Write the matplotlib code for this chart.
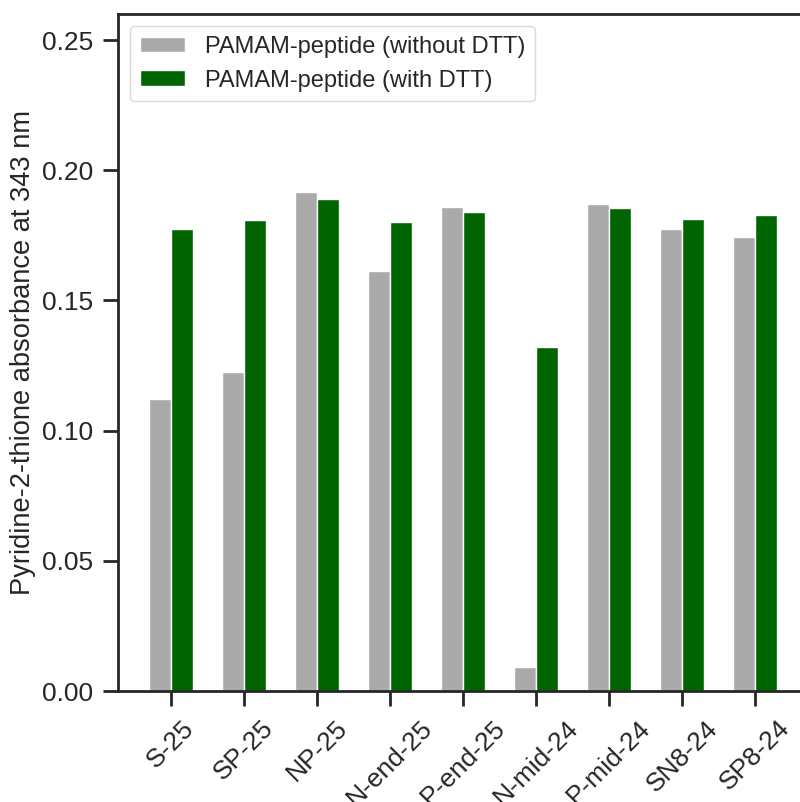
import matplotlib
matplotlib.use("Agg")
from matplotlib import pyplot as plt
import seaborn as sns
import numpy as np

samples = ["S-25", "SP-25", "NP-25", "N-end-25", "P-end-25",
           "N-mid-24", "P-mid-24", "SN8-24", "SP8-24"]
without_dtt = [0.1122, 0.1227, 0.1915, 0.1613, 0.1857, 0.0093, 0.1871, 0.1774, 0.1743]
with_dtt = [0.1774, 0.1809, 0.1888, 0.1801, 0.1839, 0.1323, 0.1855, 0.1814, 0.1828]

sns.set_style("ticks")
plt.rcParams['font.family'] = ['Liberation Sans', 'DejaVu Sans']
plt.rcParams['text.color'] = '#262626'
plt.rcParams['axes.labelcolor'] = '#262626'
plt.rcParams['xtick.color'] = '#262626'
plt.rcParams['ytick.color'] = '#262626'

fig = plt.figure(figsize=(8, 8.02), dpi=100)
ax = fig.add_axes([0.1475, 0.1384, 0.8625, 0.8441])

x = np.arange(len(samples))
w = 0.3
ax.bar(x - w / 2, without_dtt, w, color='#aaaaaa', edgecolor='white', linewidth=1,
       label='PAMAM-peptide (without DTT)')
ax.bar(x + w / 2, with_dtt, w, color='#006400', edgecolor='white', linewidth=1,
       label='PAMAM-peptide (with DTT)')

ax.set_xlim(-0.726, 8.726)
ax.set_ylim(0, 0.26)
ax.set_yticks([0, 0.05, 0.10, 0.15, 0.20, 0.25])
ax.set_yticklabels(['0.00', '0.05', '0.10', '0.15', '0.20', '0.25'])
ax.set_xticks(x)
ax.set_xticklabels(samples, rotation=45, ha='center')
ax.tick_params(axis='both', labelsize=19, length=11, width=2, color='#262626', pad=7)
ax.set_ylabel('Pyridine-2-thione absorbance at 343 nm', fontsize=19.6, labelpad=4)

for s in ax.spines.values():
    s.set_linewidth(2)
    s.set_color('#262626')

leg = ax.legend(loc='upper left', fontsize=17, handlelength=1.9, handleheight=0.65,
                handletextpad=0.85, borderpad=0.42, labelspacing=0.5,
                fancybox=True, frameon=True)
leg.get_frame().set_edgecolor('#d0d0d0')

plt.savefig('out.png', dpi=100)
